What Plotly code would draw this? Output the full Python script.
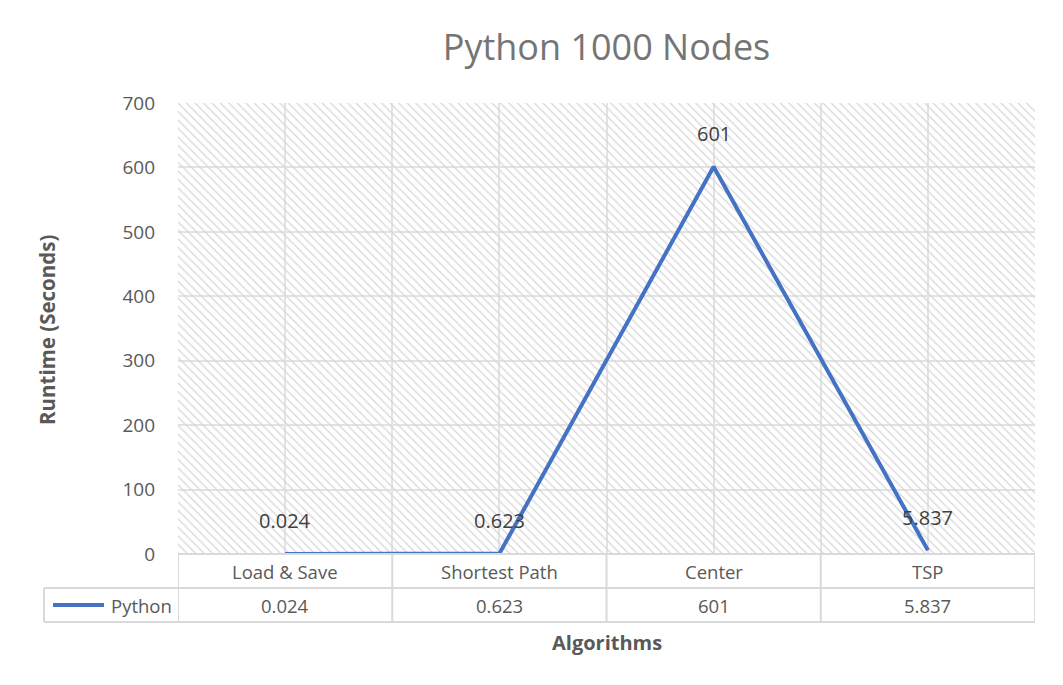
import plotly.graph_objects as go

categories = ["Load & Save", "Shortest Path", "Center", "TSP"]
series_name = "Python"
values = [0.024, 0.623, 601, 5.837]
y_ticks = [0, 100, 200, 300, 400, 500, 600, 700]
title_text = "Python 1000 Nodes"
x_title = "Algorithms"
y_title = "Runtime (Seconds)"

FONT = "Open Sans"
LINE_COLOR = "#4472C4"
TEXT_GRAY = "#595959"
GRID = "#e3e3e3"
BORDER = "#d9d9d9"

W, H = 1063, 685
ML, MR, MT, MB = 178, 28, 103, 131
pw = W - ML - MR
ph = H - MT - MB

def px_x(p):  # pixel -> paper x
    return (p - ML) / pw

def px_y(p):  # pixel -> paper y
    return (H - MB - p) / ph

xs = list(range(len(categories)))
n = len(categories)
x_range = [-0.5, n - 0.5]
y_range = [y_ticks[0], y_ticks[-1]]

fig = go.Figure()

# hatched plot-area background (spans the full axis ranges)
fig.add_trace(go.Bar(
    x=[(x_range[0] + x_range[1]) / 2], y=[y_range[1] - y_range[0]], base=[y_range[0]],
    width=[x_range[1] - x_range[0]],
    marker=dict(color="rgba(0,0,0,0)", line=dict(width=0),
                pattern=dict(shape="\\", fgcolor="#d6d6d6", fillmode="replace",
                             size=6, solidity=0.2)),
    hoverinfo="skip", showlegend=False,
))

fig.add_trace(go.Scatter(
    x=xs, y=values, mode="lines", name=series_name,
    line=dict(color=LINE_COLOR, width=4), showlegend=False,
))

annotations = []
for i, v in enumerate(values):
    annotations.append(dict(x=i, y=v, xref="x", yref="y", text=f"{v:g}",
                            showarrow=False, yshift=33, xanchor="center", yanchor="middle",
                            font=dict(family=FONT, size=20, color="#404040")))

shapes = []
row1_top, row1_bot, row2_bot = 554, 588, 622
left_cell = 44
for yy in (row1_top,):
    shapes.append(dict(type="line", xref="paper", yref="paper", x0=0, x1=1,
                       y0=px_y(yy), y1=px_y(yy), line=dict(color=BORDER, width=2)))
for yy in (row1_bot, row2_bot):
    shapes.append(dict(type="line", xref="paper", yref="paper", x0=px_x(left_cell), x1=1,
                       y0=px_y(yy), y1=px_y(yy), line=dict(color=BORDER, width=2)))
for k in range(n + 1):
    xb = k - 0.5
    shapes.append(dict(type="line", xref="x", yref="paper", x0=xb, x1=xb,
                       y0=px_y(row1_top), y1=px_y(row2_bot), line=dict(color=BORDER, width=2)))
shapes.append(dict(type="line", xref="paper", yref="paper", x0=px_x(left_cell), x1=px_x(left_cell),
                   y0=px_y(row1_bot), y1=px_y(row2_bot), line=dict(color=BORDER, width=2)))
# legend key in table
shapes.append(dict(type="line", xref="paper", yref="paper", x0=px_x(53), x1=px_x(104),
                   y0=px_y(605), y1=px_y(605), line=dict(color=LINE_COLOR, width=4)))

cell_font = dict(family=FONT, size=18.5, color=TEXT_GRAY)
for i, (c, v) in enumerate(zip(categories, values)):
    annotations.append(dict(x=i, y=px_y(571), xref="x", yref="paper", text=c, showarrow=False,
                            xanchor="center", yanchor="middle", font=cell_font))
    annotations.append(dict(x=i, y=px_y(605), xref="x", yref="paper", text=f"{v:g}", showarrow=False,
                            xanchor="center", yanchor="middle", font=cell_font))
annotations.append(dict(x=px_x(109), y=px_y(605), xref="paper", yref="paper", text=series_name,
                        xanchor="left", yanchor="middle", showarrow=False, font=cell_font))
annotations.append(dict(x=0.5, y=px_y(642), xref="paper", yref="paper", text=f"<b>{x_title}</b>",
                        xanchor="center", yanchor="middle", showarrow=False,
                        font=dict(family=FONT, size=20, color=TEXT_GRAY)))
annotations.append(dict(x=px_x(47), y=px_y(330), xref="paper", yref="paper", text=f"<b>{y_title}</b>",
                        xanchor="center", yanchor="middle", textangle=-90, showarrow=False,
                        font=dict(family=FONT, size=20.5, color=TEXT_GRAY)))

grid_vals = [k * 0.5 - 0.5 for k in range(2 * n + 1)]

fig.update_layout(
    width=W, height=H,
    margin=dict(l=ML, r=MR, t=MT, b=MB, pad=0),
    paper_bgcolor="white", plot_bgcolor="white",
    title=dict(text=title_text, x=0.5, xanchor="center", xref="paper", y=1 - 47 / H,
               yanchor="middle", font=dict(family=FONT, size=36, color="#757575")),
    xaxis=dict(range=x_range, tickvals=grid_vals, showticklabels=False, ticks="",
               showgrid=True, gridcolor=GRID, gridwidth=2, zeroline=False, showline=False,
               fixedrange=True),
    yaxis=dict(range=y_range, tickvals=y_ticks, ticks="", showgrid=True,
               gridcolor=GRID, gridwidth=2, zeroline=False, showline=False,
               ticklabelstandoff=22,
               tickfont=dict(family=FONT, size=19, color=TEXT_GRAY)),
    bargap=0,
    shapes=shapes, annotations=annotations, showlegend=False,
)

fig.write_html("out.html")
